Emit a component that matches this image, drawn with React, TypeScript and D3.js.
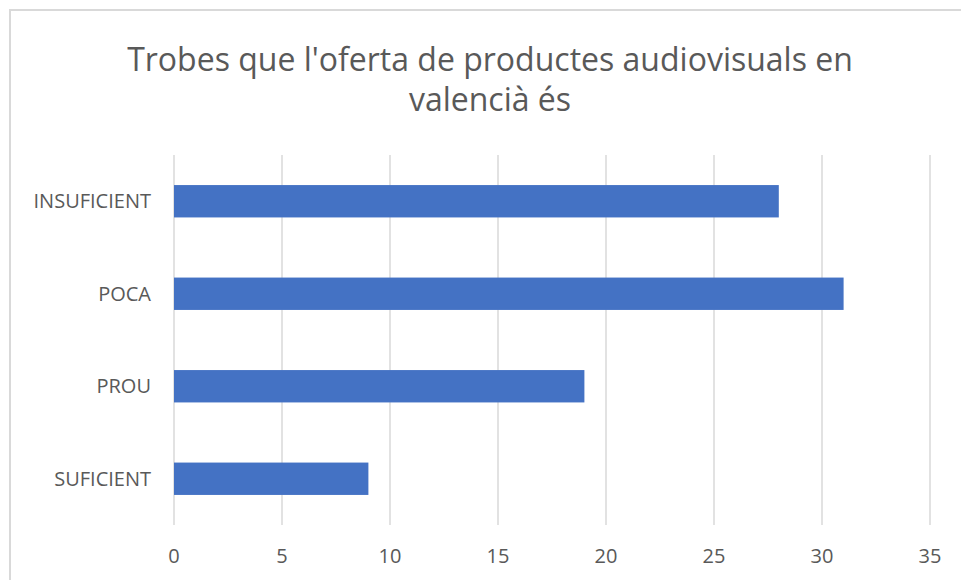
import React from "react";
import * as d3 from "d3";

const categories = ["INSUFICIENT", "POCA", "PROU", "SUFICIENT"];
const values = [28, 31, 19, 9];
const xTicks = [0, 5, 10, 15, 20, 25, 30, 35];
const titleLines = ["Trobes que l'oferta de productes audiovisuals en", "valencià és"];

export default function App() {
  const W = 961, H = 580;
  const left = 174, right = 930, top = 155, bottom = 525;
  const x = d3.scaleLinear().domain([0, 35]).range([left, right]);
  const y = d3.scaleBand().domain(categories).range([top, bottom]).paddingInner(0.65).paddingOuter(0.325);
  const font = "'Open Sans', 'Noto Sans', sans-serif";
  return (
    <svg width={W} height={H} style={{ position: "absolute", left: 0, top: 0 }} fontFamily={font}>
      <rect x={0} y={0} width={W} height={H} fill="#fff" />
      <rect x={10} y={10} width={960} height={600} fill="none" stroke="#d9d9d9" strokeWidth={2} />
      {titleLines.map((t, i) => (
        <text key={i} x={490} y={71 + i * 40} textAnchor="middle" fontSize={32} fill="#595959">{t}</text>
      ))}
      {xTicks.map((t) => (
        <g key={t}>
          <line x1={x(t)} x2={x(t)} y1={top} y2={bottom} stroke="#d9d9d9" strokeWidth={1.5} />
          <text x={x(t)} y={563} textAnchor="middle" fontSize={20} fill="#595959">{t}</text>
        </g>
      ))}
      {categories.map((c, i) => (
        <g key={c}>
          <rect x={x(0)} y={y(c)!} width={x(values[i]) - x(0)} height={y.bandwidth()} fill="#4472C4" />
          <text x={151} y={y(c)! + y.bandwidth() / 2} dy="0.35em" textAnchor="end" fontSize={20} fill="#595959">{c}</text>
        </g>
      ))}
    </svg>
  );
}
